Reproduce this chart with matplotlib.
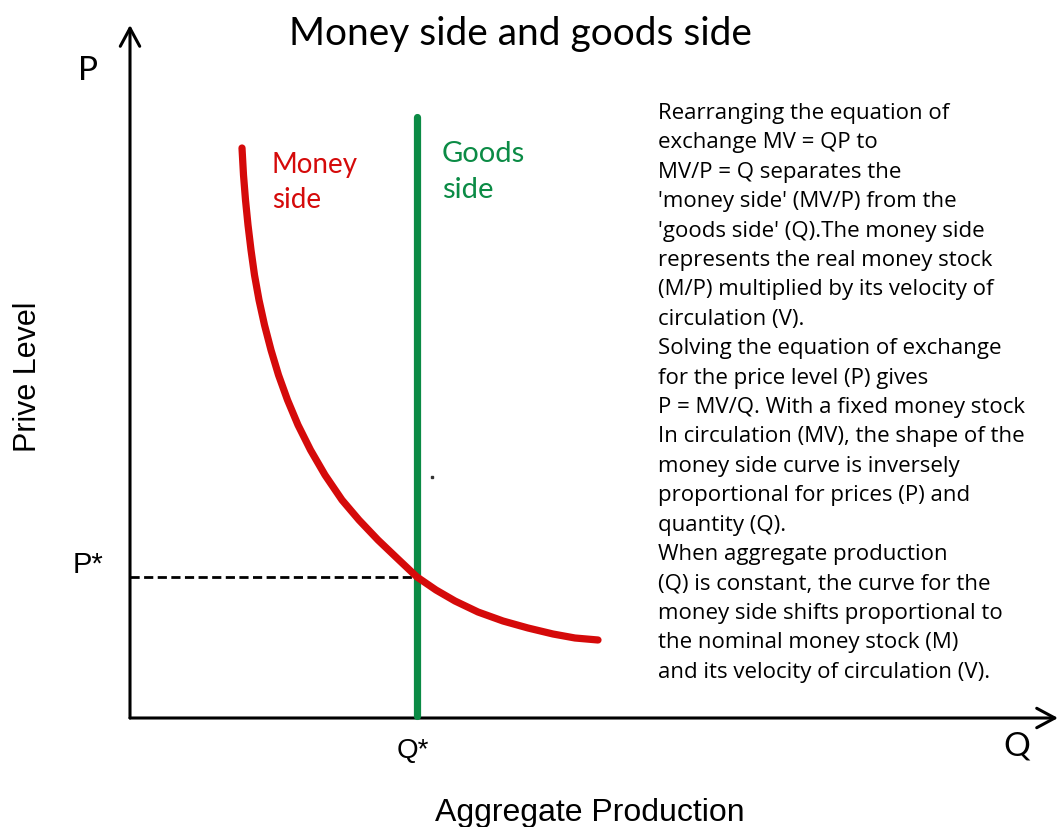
import matplotlib
matplotlib.use('Agg')
import matplotlib.pyplot as plt

# chart coordinates: origin of the diagram at (0, 0)
money_q = [1.12, 1.135, 1.155, 1.18, 1.21, 1.245, 1.29, 1.345, 1.41, 1.485, 1.575,
           1.68, 1.805, 1.95, 2.12, 2.29, 2.48, 2.69, 2.87, 3.06, 3.25, 3.48,
           3.73, 3.98, 4.23, 4.45, 4.68]
money_p = [5.70, 5.43, 5.18, 4.93, 4.68, 4.43, 4.18, 3.93, 3.68, 3.43, 3.18,
           2.93, 2.68, 2.43, 2.18, 1.98, 1.78, 1.58, 1.41, 1.28, 1.17, 1.06,
           0.97, 0.90, 0.84, 0.80, 0.78]

q_star = 2.87
p_star = 1.41
goods_top = 6.01
x_axis_end = 9.28
y_axis_end = 6.93
stray_dot = (3.02, 2.41)

title = 'Money side and goods side'
note_lines = [
    "Rearranging the equation of",
    "exchange MV = QP to",
    "MV/P = Q separates the",
    "'money side' (MV/P) from the",
    "'goods side' (Q).The money side",
    "represents the real money stock",
    "(M/P) multiplied by its velocity of",
    "circulation (V).",
    "Solving the equation of exchange",
    "for the price level (P) gives",
    "P = MV/Q. With a fixed money stock",
    "In circulation (MV), the shape of the",
    "money side curve is inversely",
    "proportional for prices (P) and",
    "quantity (Q).",
    "When aggregate production",
    "(Q) is constant, the curve for the",
    "money side shifts proportional to",
    "the nominal money stock (M)",
    "and its velocity of circulation (V).",
]

RED = '#d50a0a'
GREEN = '#0b8b45'
HUM = 'Lato'
SANS = 'Liberation Sans'

fig = plt.figure(figsize=(10.62, 8.27), dpi=100)
ax = fig.add_axes([0, 0, 1, 1])
ax.set_xlim(-1.30, 9.32)
ax.set_ylim(-1.09, 7.18)
ax.axis('off')

# axes with open arrow heads
arrow = dict(arrowstyle='->,head_length=1.3,head_width=0.7', lw=2.2, color='black',
             shrinkA=0, shrinkB=0)
ax.annotate('', xy=(x_axis_end, 0), xytext=(0, 0), arrowprops=arrow)
ax.annotate('', xy=(0, y_axis_end), xytext=(0, 0), arrowprops=arrow)

# P* guide
ax.plot([0, q_star], [p_star, p_star], color='black', lw=2.0,
        linestyle=(0, (3.3, 1.6)), zorder=2)

# goods side (vertical)
ax.plot([q_star, q_star], [0.02, goods_top], color=GREEN, lw=5.2,
        solid_capstyle='round', zorder=3)

# money side curve
ax.plot(money_q, money_p, color=RED, lw=5.2, solid_capstyle='round',
        solid_joinstyle='round', zorder=4)

ax.plot(*stray_dot, marker='s', ms=2, color='#333333', lw=0)

ax.text(3.90, 6.73, title, ha='center', va='baseline', fontsize=28, family=HUM)
ax.text(-0.52, 6.38, 'P', ha='left', va='baseline', fontsize=24, family=HUM)
ax.text(8.73, -0.38, 'Q', ha='left', va='baseline', fontsize=24, family=HUM)
ax.text(-0.57, 1.45, 'P*', ha='left', va='baseline', fontsize=21, family=SANS)
ax.text(q_star - 0.04, -0.40, 'Q*', ha='center', va='baseline', fontsize=20, family=SANS)
ax.text(-1.02, 3.41, 'Prive Level', rotation=90, ha='center', va='center',
        fontsize=22, family=SANS)
ax.text(4.60, -1.03, 'Aggregate Production', ha='center', va='baseline',
        fontsize=23, family=SANS)

ax.text(1.42, 5.45, 'Money', color=RED, ha='left', va='baseline', fontsize=20, family=HUM)
ax.text(1.42, 5.10, 'side', color=RED, ha='left', va='baseline', fontsize=20, family=HUM)
ax.text(3.12, 5.56, 'Goods', color=GREEN, ha='left', va='baseline', fontsize=21, family=HUM)
ax.text(3.12, 5.20, 'side', color=GREEN, ha='left', va='baseline', fontsize=21, family=HUM)

for i, line in enumerate(note_lines):
    ax.text(5.28, 5.99 - i * 0.294, line, ha='left', va='baseline',
            fontsize=16, family='Open Sans')

fig.savefig('out.png', dpi=100)
